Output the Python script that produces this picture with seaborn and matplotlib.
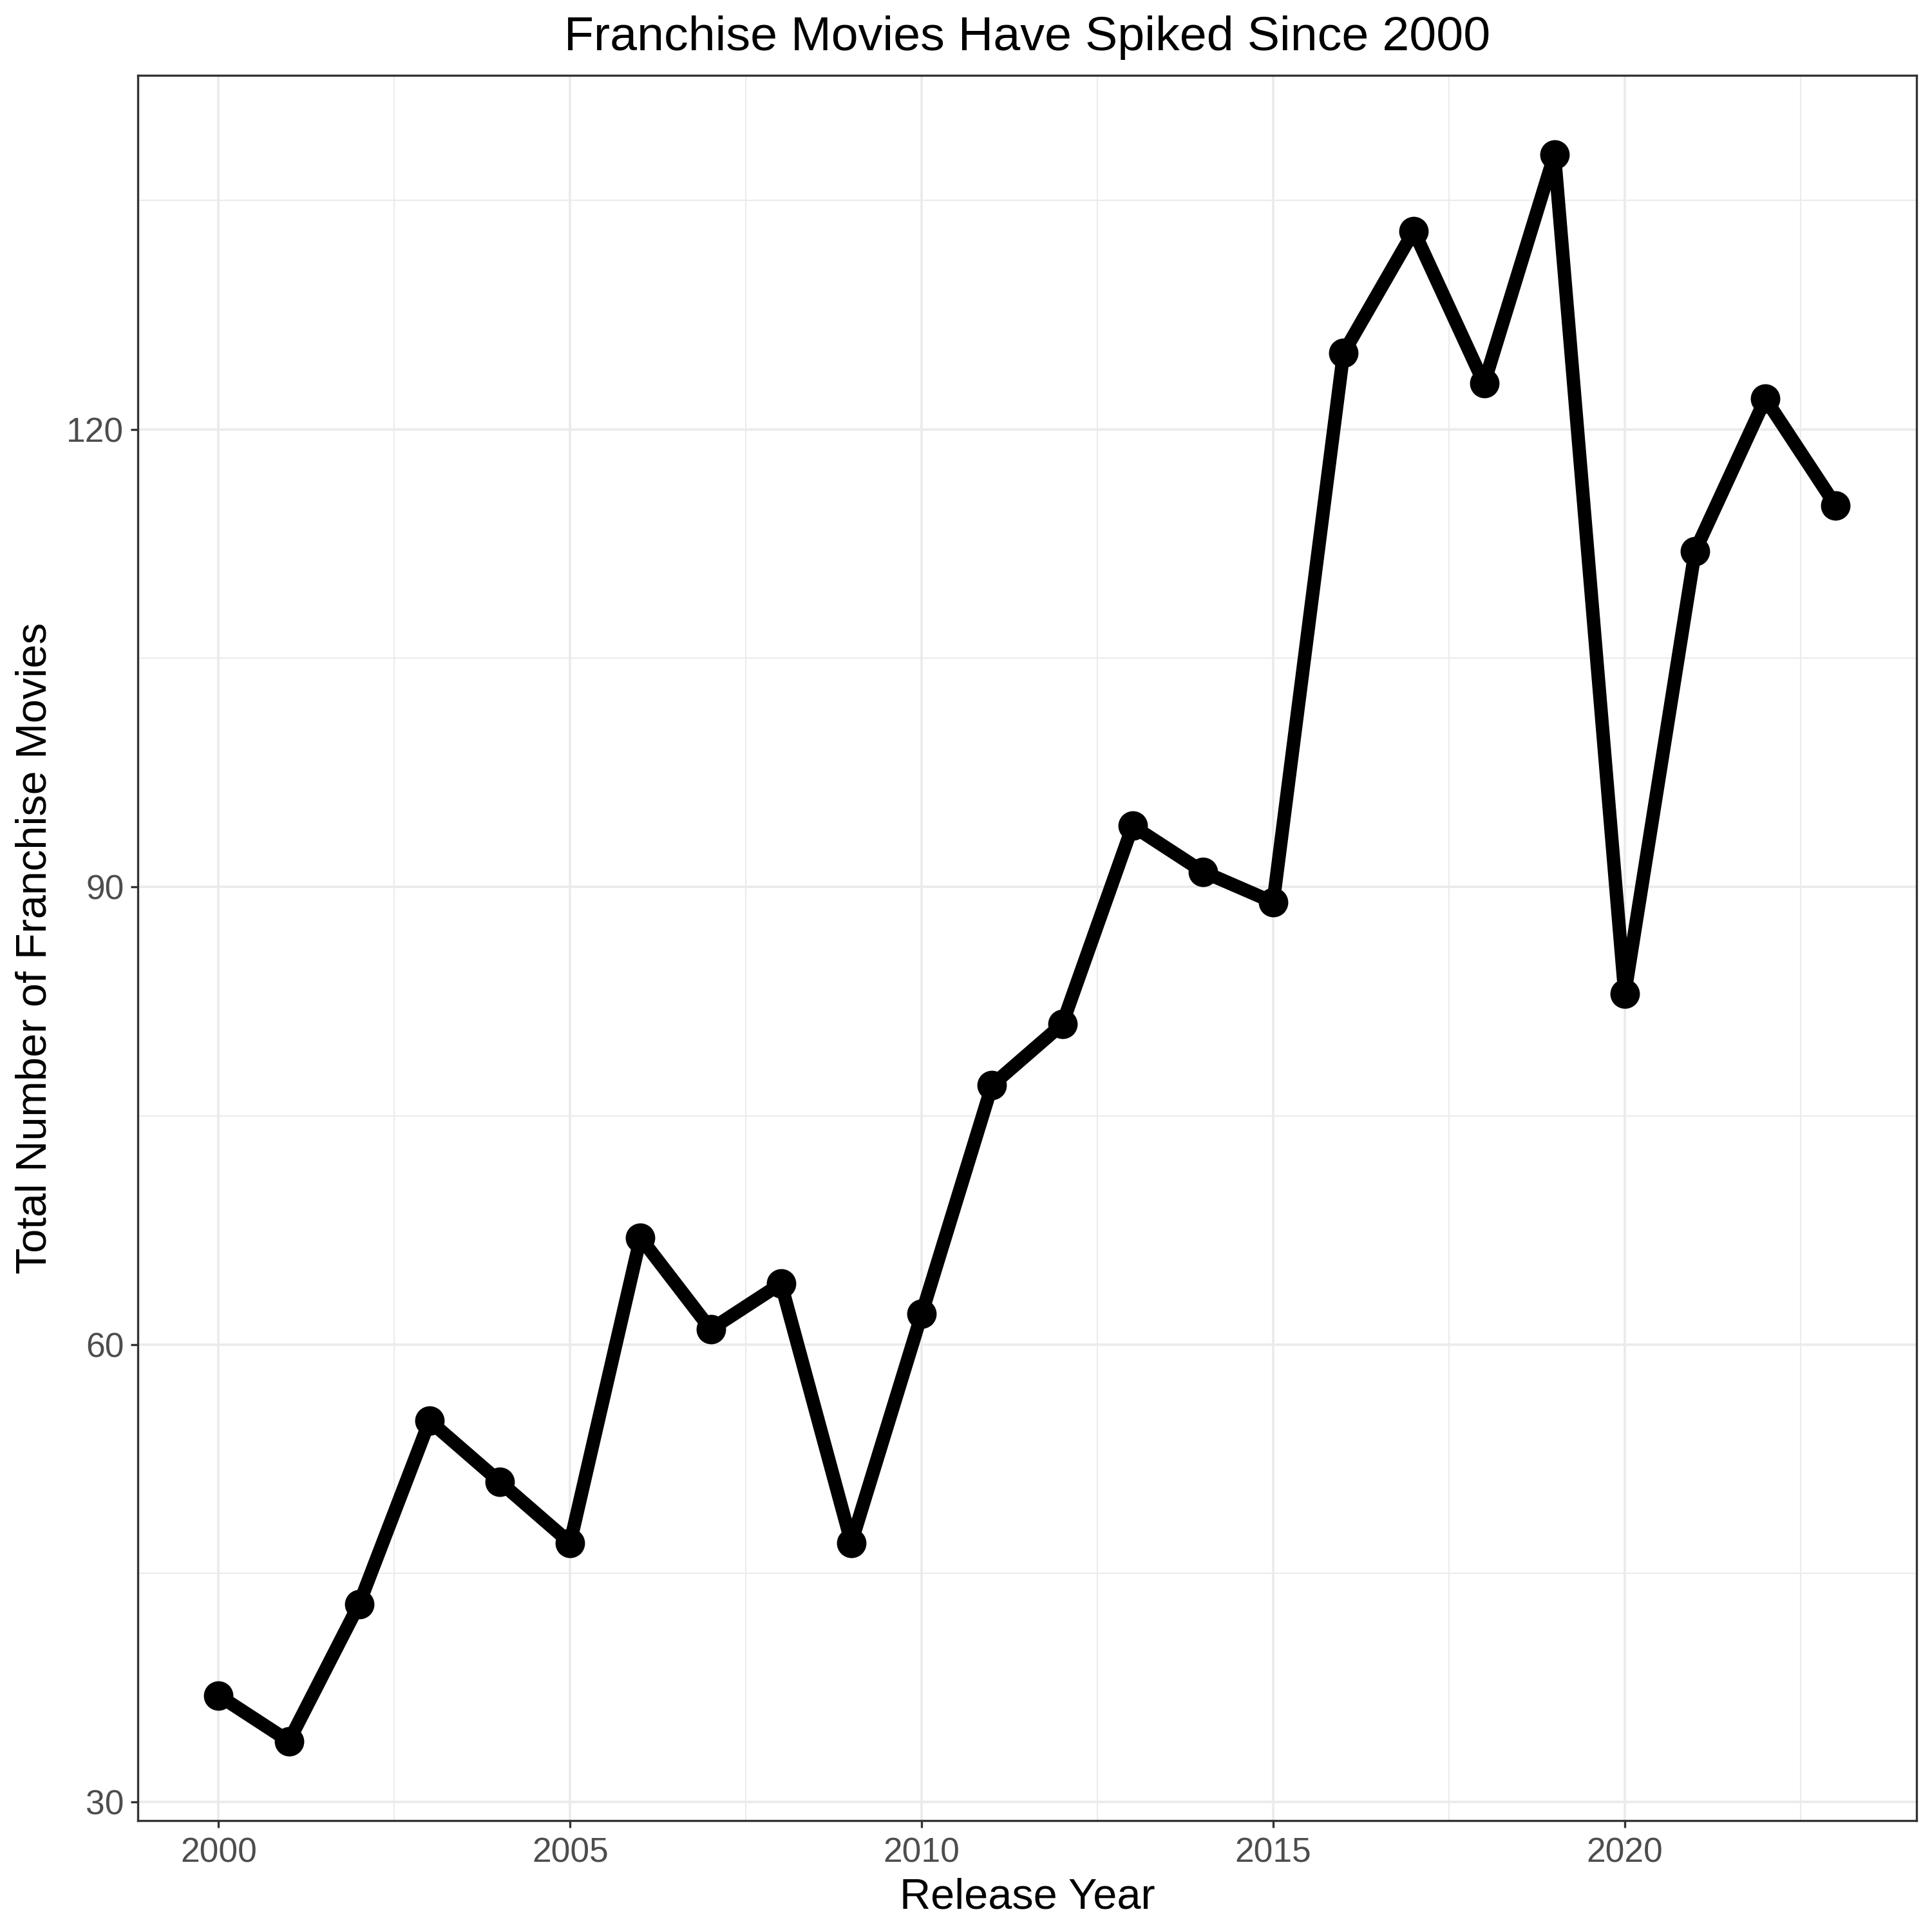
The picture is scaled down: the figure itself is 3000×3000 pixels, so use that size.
import matplotlib
matplotlib.use("Agg")
import matplotlib.pyplot as plt
import seaborn as sns
import pandas as pd
import numpy as np
from matplotlib.ticker import FixedLocator

years = list(range(2000, 2024))
counts = [37, 34, 43, 55, 51, 47, 67, 61, 64, 47, 62, 77, 81, 94, 91, 89,
          125, 133, 123, 138, 83, 112, 122, 115]

title = "Franchise Movies Have Spiked Since 2000"
xlabel = "Release Year"
ylabel = "Total Number of Franchise Movies"
xticks = [2000, 2005, 2010, 2015, 2020]
yticks = [30, 60, 90, 120]

df = pd.DataFrame({"year": years, "count": counts})

sns.set_style("white")
plt.rcParams['font.family'] = ['Liberation Sans', 'DejaVu Sans']

fig = plt.figure(figsize=(10, 10), dpi=300)
left, right, bottom, top = 0.0713, 0.992, 0.0577, 0.961
ax = fig.add_axes([left, bottom, right - left, top - bottom])

sns.lineplot(data=df, x="year", y="count", ax=ax, color="black",
             linewidth=5, marker="o", markersize=11, markeredgewidth=0,
             zorder=3)

# limits with ggplot-like 5% expansion
xr = max(years) - min(years)
yr = max(counts) - min(counts)
ax.set_xlim(min(years) - 0.05 * xr, max(years) + 0.05 * xr)
ax.set_ylim(min(counts) - 0.05 * yr, max(counts) + 0.05 * yr)

ax.xaxis.set_major_locator(FixedLocator(xticks))
ax.yaxis.set_major_locator(FixedLocator(yticks))
ax.xaxis.set_minor_locator(FixedLocator([t + 2.5 for t in xticks]))
ax.yaxis.set_minor_locator(FixedLocator([t + 15 for t in yticks]))
ax.set_xticklabels([str(t) for t in xticks])
ax.set_yticklabels([str(t) for t in yticks])

ax.grid(which="major", color="#EBEBEB", linewidth=0.9, zorder=0)
ax.grid(which="minor", color="#EBEBEB", linewidth=0.5, zorder=0)
ax.set_axisbelow(True)

for s in ax.spines.values():
    s.set_color("#333333")
    s.set_linewidth(0.8)
    s.set_visible(True)

ax.tick_params(which="major", length=2.75, width=0.8, color="#333333",
               labelsize=12.8, labelcolor="#4D4D4D", bottom=True, left=True)
ax.tick_params(axis="y", which="major", pad=2.4)
ax.tick_params(axis="x", which="major", pad=3.3)
ax.tick_params(which="minor", length=0, bottom=False, left=False)

ax.set_xlabel("")
ax.set_ylabel("")

cx = (left + right) / 2
fig.text(cx, 0.974, title, ha="center", va="baseline", fontsize=18.1, color="black")
fig.text(cx, 0.0123, xlabel, ha="center", va="baseline", fontsize=16, color="black")
fig.text(0.0183, (bottom + top) / 2, ylabel, ha="center", va="center", rotation=90,
         fontsize=16, color="black")

fig.savefig("out.png", dpi=300, facecolor="white")
